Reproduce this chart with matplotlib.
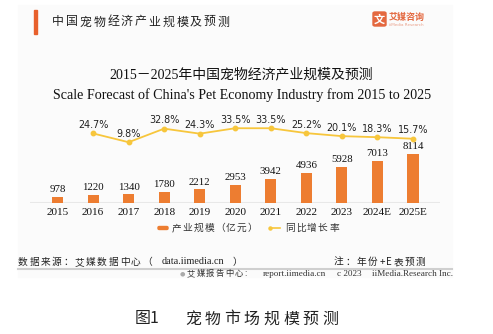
import numpy as np
import matplotlib.pyplot as plt
from matplotlib.patches import Rectangle, FancyBboxPatch
from matplotlib.lines import Line2D

# data
years = ['2015', '2016', '2017', '2018', '2019', '2020', '2021', '2022', '2023', '2024E', '2025E']
scale = [978, 1220, 1340, 1780, 2212, 2953, 3942, 4936, 5928, 7013, 8114]  # 亿元
growth = [None, 24.7, 9.8, 32.8, 24.3, 33.5, 33.5, 25.2, 20.1, 18.3, 15.7]  # %

W, H = 493, 334
ORANGE = '#ED7D31'
YELLOW = '#F7C63C'
SERIF = ['Liberation Serif', 'Noto Sans CJK SC']
CJK = ['Noto Sans CJK SC', 'DejaVu Sans']

fig = plt.figure(figsize=(W / 100, H / 100), dpi=100)


def fx(x):
    return x / W


def fy(y):
    return 1 - y / H


def spaced(x, y, s, pitch, **kw):
    # place characters one by one; ascii chars take roughly half the pitch
    for ch in s:
        fig.text(fx(x), fy(y), ch, va='center', ha='left', **kw)
        x += pitch if ord(ch) > 127 else pitch * 0.6


# faint panel background
fig.patches.append(Rectangle((fx(18), fy(277)), fx(452 - 18), (277 - 5) / H,
                             transform=fig.transFigure, color='#fbfbfb', zorder=-1))

# header
fig.patches.append(Rectangle((fx(34), fy(34)), fx(3), 24 / H,
                             transform=fig.transFigure, color='#E8602C'))
spaced(52, 22, '中国宠物经济产业规模及预测', 13.8, fontsize=8.6, family=CJK, color='#222222')

# logo
fig.patches.append(FancyBboxPatch((fx(373), fy(26)), fx(13), 14 / H,
                                  boxstyle='round,pad=0,rounding_size=0.004',
                                  transform=fig.transFigure, color='#E4683F'))
fig.text(fx(379.5), fy(19.5), '文', ha='center', va='center', fontsize=8,
         fontweight='bold', family=CJK, color='white')
fig.text(fx(389), fy(17), '艾媒咨询', ha='left', va='center', fontsize=6.5,
         fontweight='bold', family=CJK, color='#E4683F')
fig.text(fx(389), fy(25), 'iiMedia Research', ha='left', va='center', fontsize=3,
         color='#E9A08A')

# chart titles
fig.text(fx(241), fy(75), '2015－2025年中国宠物经济产业规模及预测', ha='center', va='center',
         fontsize=10, family=SERIF, color='#111111')
fig.text(fx(242), fy(95), "Scale Forecast of China's Pet Economy Industry from 2015 to 2025",
         ha='center', va='center', fontsize=10.1, family=SERIF, color='#111111')

# axes geometry in pixels
x0, dx = 57.5, 35.55
left_px, right_px = 30, 440
top_px, base_px = 110, 202.5
ax = fig.add_axes([fx(left_px), fy(base_px), fx(right_px - left_px), (base_px - top_px) / H])
ax.set_xlim((left_px - x0) / dx, (right_px - x0) / dx)
ax.set_ylim(0, (base_px - top_px) / 0.005977)
ax.patch.set_alpha(0)
for s in ax.spines.values():
    s.set_visible(False)
ax.set_yticks([])
ax.set_xticks([])
ax.axhline(0, color='#e8e8e8', lw=1.5, zorder=1)

xs = np.arange(len(years))
ax.bar(xs, scale, width=0.31, color=ORANGE, zorder=2)
for x, v in zip(xs, scale):
    ax.annotate(str(v), (x, v), xytext=(0, 2), textcoords='offset points',
                ha='center', va='bottom', fontsize=7.8, family=SERIF, color='#111111')
for x, lab in zip(xs, years):
    ax.annotate(lab, (x, 0), xytext=(0, -7.5), textcoords='offset points',
                ha='center', va='center', fontsize=8, family=SERIF, color='#111111')

ax2 = ax.twinx()
ax2.set_ylim(-(base_px - 148) / 0.59, (148 - top_px) / 0.59)
ax2.axis('off')
gx = [x for x, g in zip(xs, growth) if g is not None]
gv = [g for g in growth if g is not None]
ax2.plot(gx, gv, color=YELLOW, lw=1.3, marker='o', ms=3.2, zorder=3)
for x, g in zip(gx, gv):
    ax2.annotate(f'{g}%', (x, g), xytext=(0, 2.5), textcoords='offset points',
                 ha='center', va='bottom', fontsize=6.9, color='#222222')

# legend
fig.patches.append(FancyBboxPatch((fx(158), fy(229.5)), fx(10), 3 / H,
                                  boxstyle='round,pad=0,rounding_size=0.003',
                                  transform=fig.transFigure, color=ORANGE))
spaced(172, 228, '产业规模（亿元）', 10.8, fontsize=7, family=CJK, color='#333333')
fig.lines.append(Line2D([fx(270), fx(280)], [fy(228), fy(228)], transform=fig.transFigure,
                        color=YELLOW, lw=1.2, marker='o', ms=2.2, markevery=[0]))
spaced(285, 228, '同比增长率', 11.0, fontsize=7, family=CJK, color='#333333')

# source notes
spaced(18, 262, '数据来源：艾媒数据中心（', 11.3, fontsize=7, family=CJK, color='#222222')
fig.text(fx(162), fy(262), 'data.iimedia.cn', ha='left', va='center', fontsize=7.3,
         family=SERIF, color='#222222')
fig.text(fx(233), fy(262), '）', ha='left', va='center', fontsize=7, family=CJK, color='#222222')
spaced(334, 262, '注：年份+E表预测', 11.4, fontsize=7, family=CJK, color='#222222')

fig.lines.append(Line2D([fx(18), fx(452)], [fy(268.5), fy(268.5)], transform=fig.transFigure,
                        color='#cfcfcf', lw=1.5))
fig.text(fx(180), fy(273.5), '●', ha='left', va='center', fontsize=4.5, color='#aaaaaa')
spaced(187, 273.5, '艾媒报告中心:', 9.5, fontsize=6, family=CJK, color='#333333')
fig.text(fx(263), fy(273.5), 'report.iimedia.cn', ha='left', va='center', fontsize=6.6,
         family=SERIF, color='#333333')
fig.text(fx(337), fy(273.5), 'c 2023', ha='left', va='center', fontsize=6.6,
         family=SERIF, color='#333333')
fig.text(fx(372), fy(273.5), 'iiMedia.Research Inc.', ha='left', va='center', fontsize=6.6,
         family=SERIF, color='#333333')

# caption
fig.text(fx(135), fy(319), '图1', ha='left', va='center', fontsize=11.5, family=CJK, color='#222222')
spaced(185, 319, '宠物市场规模预测', 19.6, fontsize=11.5, family=CJK, color='#222222')

fig.savefig('out.png', dpi=100)
